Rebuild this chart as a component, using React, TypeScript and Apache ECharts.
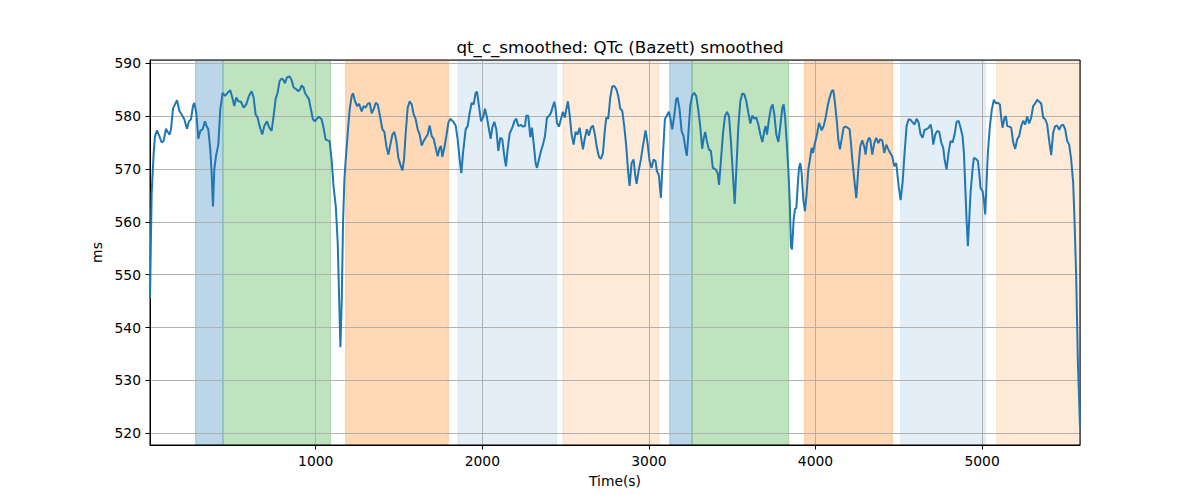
import React, { useEffect, useRef } from "react";
import * as echarts from "echarts";

const times = [
  5, 15, 27, 35, 47, 61, 75, 87, 101, 111, 123, 131, 143, 155, 167, 181, 195, 211, 227, 239,
  251, 263, 271, 283, 295, 307, 321, 335, 345, 355, 367, 375, 383, 391, 401, 415, 427, 441, 455, 471,
  487, 499, 511, 523, 535, 551, 567, 583, 599, 615, 627, 639, 651, 663, 679, 691, 707, 721, 735, 747,
  759, 771, 783, 795, 807, 815, 827, 843, 855, 867, 883, 895, 907, 915, 927, 935, 947, 959, 971, 983,
  995, 1007, 1019, 1035, 1047, 1059, 1071, 1083, 1095, 1107, 1120, 1132, 1148, 1156, 1164, 1172, 1180,
  1192, 1204, 1216, 1224, 1236, 1248, 1260, 1276, 1288, 1300, 1312, 1324, 1336, 1348, 1360, 1372, 1384,
  1400, 1412, 1424, 1436, 1448, 1460, 1472, 1484, 1496, 1508, 1520, 1530, 1540, 1552, 1564, 1576, 1588,
  1600, 1612, 1624, 1636, 1648, 1660, 1672, 1684, 1696, 1708, 1720, 1732, 1744, 1752, 1760, 1772, 1784,
  1796, 1808, 1824, 1840, 1852, 1864, 1874, 1884, 1900, 1912, 1924, 1936, 1948, 1960, 1968, 1980, 1992,
  2004, 2016, 2028, 2040, 2050, 2060, 2072, 2084, 2096, 2108, 2120, 2132, 2142, 2152, 2164, 2180, 2192,
  2204, 2216, 2232, 2244, 2256, 2264, 2276, 2288, 2298, 2308, 2320, 2328, 2340, 2352, 2364, 2376, 2388,
  2400, 2412, 2424, 2432, 2440, 2448, 2460, 2472, 2484, 2496, 2504, 2514, 2524, 2536, 2548, 2560, 2572,
  2584, 2596, 2604, 2616, 2628, 2640, 2652, 2664, 2676, 2688, 2700, 2712, 2724, 2736, 2744, 2756, 2768,
  2780, 2792, 2804, 2816, 2828, 2840, 2852, 2864, 2876, 2884, 2896, 2908, 2918, 2926, 2938, 2952, 2964,
  2980, 2992, 3004, 3016, 3028, 3040, 3048, 3060, 3072, 3084, 3096, 3108, 3120, 3128, 3140, 3152, 3164,
  3172, 3184, 3196, 3208, 3220, 3228, 3236, 3248, 3260, 3272, 3284, 3296, 3308, 3320, 3328, 3338, 3348,
  3360, 3372, 3384, 3401, 3413, 3421, 3433, 3445, 3457, 3469, 3481, 3493, 3505, 3515, 3525, 3537, 3549,
  3561, 3573, 3585, 3597, 3609, 3621, 3633, 3645, 3657, 3669, 3681, 3693, 3701, 3709, 3721, 3733, 3743,
  3753, 3765, 3777, 3789, 3801, 3809, 3817, 3829, 3837, 3845, 3853, 3859, 3869, 3877, 3885, 3893, 3901,
  3909, 3917, 3927, 3937, 3947, 3957, 3967, 3977, 3985, 3997, 4009, 4021, 4029, 4037, 4049, 4061, 4073,
  4085, 4097, 4107, 4117, 4129, 4137, 4147, 4157, 4169, 4181, 4193, 4205, 4213, 4221, 4233, 4245, 4257,
  4269, 4281, 4293, 4301, 4309, 4321, 4329, 4341, 4353, 4365, 4377, 4389, 4401, 4413, 4425, 4437, 4449,
  4461, 4473, 4485, 4499, 4511, 4523, 4535, 4547, 4559, 4571, 4583, 4595, 4607, 4619, 4631, 4643, 4655,
  4667, 4679, 4691, 4699, 4707, 4719, 4731, 4743, 4755, 4767, 4775, 4787, 4799, 4811, 4823, 4835, 4847,
  4859, 4871, 4883, 4891, 4899, 4907, 4915, 4923, 4931, 4943, 4951, 4963, 4975, 4983, 4991, 5003, 5011,
  5019, 5027, 5035, 5047, 5059, 5071, 5083, 5095, 5107, 5115, 5123, 5135, 5143, 5151, 5163, 5175, 5187,
  5199, 5211, 5223, 5235, 5247, 5259, 5271, 5283, 5295, 5307, 5319, 5331, 5343, 5355, 5367, 5379, 5391,
  5403, 5415, 5427, 5439, 5451, 5463, 5475, 5487, 5499, 5511, 5523, 5535, 5547, 5555, 5565, 5575, 5588,
];

const qtc = [
  545.5, 565.5, 573, 576.2, 577.3, 576.2, 575, 575.3, 577.6, 577, 576.5, 577.5, 581.4, 582.2, 583, 581, 580.3, 579.4, 577.6, 579,
  579.4, 581.9, 582.5, 580.6, 575.7, 577.2, 577.5, 579, 578.1, 577.5, 573.7, 569.2, 562.9, 569.9, 572.4, 574.6, 581.3, 584.4, 583.8, 584.4,
  584.9, 583.5, 581.9, 583.5, 582.8, 582.7, 581.6, 582.2, 583.8, 584.7, 583.5, 580.3, 579.7, 578.1, 576.5, 578.1, 579, 577.8, 577.2, 580,
  583.2, 584.4, 586.6, 587.1, 586.8, 586.2, 587.3, 587.5, 586.8, 585.4, 585.1, 584.7, 585.1, 585.8, 585.4, 584.4, 583.8, 583.2, 581.3, 579.4,
  579, 579.5, 579.9, 579.4, 577.8, 575.6, 575.4, 575.3, 571.8, 566.7, 563, 556, 536.3, 545, 560, 568, 571.8,
  576.8, 581.3, 583.8, 584.3, 582.8, 581.9, 582.3, 580.9, 581.9, 581.6, 582.3, 582.5, 580.5, 581.3, 582.5, 582.2, 580.3,
  577.5, 577, 574.3, 572.7, 574.6, 576.5, 577, 575.3, 572.1, 570.8, 569.7, 571.8, 576.8, 581.6, 582.8, 582.2, 580.3,
  579.4, 577.5, 576.5, 574.4, 575.3, 575.9, 576.5, 578.2, 576.2, 575.7, 574, 572.4, 574, 574.3, 572.3, 574, 576.2,
  578.7, 579.5, 579, 578.2, 575.6, 571.8, 569.2, 573, 577.5, 578.1, 580.6, 582.5, 582.2, 584.4, 584.6, 581.9, 579,
  579.7, 581.4, 579.7, 577.5, 575.7, 577.8, 578.9, 577.5, 573.4, 575.9, 575.6, 572.4, 570.5, 573.7, 576.7, 577.8, 579,
  579.5, 578.1, 578.3, 578, 578.1, 580.1, 580, 576, 577.8, 574.9, 571.1, 570.2, 571.8, 573.4, 574.6, 576.2, 579.7,
  580, 580.6, 581.9, 582.7, 581.3, 578.7, 578, 579.4, 580.8, 579.7, 581.3, 582.8, 580.3, 576.5, 574.6, 577, 576.5,
  577.8, 575.3, 573.7, 575.9, 577.5, 576.3, 577.8, 578.2, 576.5, 574, 572.3, 571.9, 573, 577.5, 579.7, 579.5, 583.5,
  585.6, 585.7, 585.1, 583.8, 581.4, 581, 578.1, 574.3, 569.2, 566.8, 571.1, 571.8, 568.8, 567.2, 569.6, 571.8, 574.3,
  577.3, 574.9, 571.5, 570.2, 571.8, 571.5, 569.6, 568.8, 564.5, 572.4, 579.4, 580.1, 580.8, 579.7, 577.5, 580, 583.2,
  583.5, 581.3, 577.2, 576.2, 573.7, 572.5, 576.2, 581.9, 583.9, 584.4, 583.8, 581.3, 578.1, 573.8, 575.6, 577, 575.3,
  573.7, 573.4, 570.2, 569.9, 569.2, 567, 571.8, 576.8, 580, 580.8, 580, 574.9, 568.6, 563.4, 569.9, 578.1, 582.8,
  584.3, 584.1, 582.8, 580.6, 578.6, 580.1, 579.5, 579.7, 578.4, 576.5, 575.1, 577.2, 578.1, 576.5, 579.4, 581.6, 582.2,
  580.3, 576.5, 575.1, 578.1, 581.6, 582.2, 580, 574.3, 569.9, 564.2, 555.3, 554.8, 560.4, 562.4, 562.6, 566.7, 570.2,
  571.1, 569.2, 564.2, 562, 565.4, 569.9, 571.8, 574, 573, 574.9, 576.5, 578.7, 578.1, 577.3, 578.1, 579.7, 581.9,
  583.5, 584.7, 584.9, 582.5, 578.7, 575.6, 573.7, 575.6, 577.8, 578, 577.8, 577.5, 574.9, 571.8, 568, 564.5, 569.9,
  574.3, 575.4, 574.2, 572.7, 574.9, 575.9, 575.6, 572.7, 574.9, 575.9, 574.9, 575.6, 575.4, 573, 574.6, 573.7, 573,
  572.4, 570.5, 571.1, 566.8, 564.1, 567.4, 573.1, 578.1, 579.4, 579.3, 578.8, 578.4, 579.5, 578.8, 576.5, 575.9, 577.4,
  577.5, 577.8, 578.4, 577.2, 574.6, 576.5, 577.2, 577, 575, 574, 571.8, 569.9, 573.1, 575.3, 575, 576.5, 578.9,
  579.1, 577.8, 576.2, 573.1, 566.8, 560.4, 555.4, 560.4, 565.5, 569.9, 572.1, 571.9, 571.5, 569.3, 566.4, 565.8, 564.2,
  561.4, 567.4, 573.1, 578.1, 581.3, 583.1, 582.4, 582.5, 582.2, 579.7, 577.8, 579.7, 580, 578.1, 578, 577.8, 575,
  573.8, 575.6, 576.2, 578.1, 579.1, 578.4, 579.9, 578.6, 579.7, 581.9, 582.4, 583.1, 582.7, 582.4, 579.7, 579.4, 578.4,
  575.3, 572.6, 576.9, 578.1, 578.2, 577.4, 578.2, 578.4, 577.5, 575.3, 574.6, 571.8, 567.4, 560.4, 549.7, 533.9, 521.2,
];

const bandStarts = [279, 443, 1180, 1854, 2484, 3125, 3259, 3935, 4512, 5088];
const bandEnds = [443, 1088, 1796, 2445, 3061, 3259, 3839, 4462, 5020, 5588];
const bandKinds = ["blue", "green", "orange", "lightblue", "lightorange", "blue", "green", "orange", "lightblue", "lightorange"];

const xTicksMin = 5;
const xTicksMax = 5588;
const yTicksMin = 517.8;
const yTicksMax = 590.6;

const TITLE = "qt_c_smoothed: QTc (Bazett) smoothed";
const X_NAME = "Time(s)";
const Y_NAME = "ms";

const kindColor: Record<string, string> = {
  blue: "rgba(31,119,180,0.3)",
  green: "rgba(44,160,44,0.3)",
  orange: "rgba(255,127,14,0.3)",
  lightblue: "rgba(31,119,180,0.12)",
  lightorange: "rgba(255,127,14,0.16)",
};

const FONT = "DejaVu Sans";

export default function App() {
  const ref = useRef<HTMLDivElement>(null);
  useEffect(() => {
    if (!ref.current) return;
    const chart = echarts.init(ref.current, undefined, { renderer: "svg" });
    const axisLabel = {
      fontFamily: FONT,
      fontSize: 13.89,
      color: "#000",
      margin: 9,
      showMinLabel: false,
      showMaxLabel: false,
    };
    const areas = bandStarts.map((s, i) => [
      {
        xAxis: s,
        itemStyle: {
          color: kindColor[bandKinds[i]],
          borderColor: kindColor[bandKinds[i]],
          borderWidth: 1,
        },
      },
      { xAxis: bandEnds[i] },
    ]);
    chart.setOption({
      animation: false,
      title: {
        text: TITLE,
        left: 615,
        top: 34,
        textAlign: "center",
        textStyle: { fontFamily: FONT, fontSize: 16.67, fontWeight: "normal", color: "#000" },
      },
      grid: {
        left: 150,
        right: 120,
        top: 60,
        bottom: 55,
        show: true,
        borderColor: "#000",
        borderWidth: 1,
        backgroundColor: "transparent",
        z: 3,
      },
      xAxis: {
        type: "value",
        min: xTicksMin,
        max: xTicksMax,
        minInterval: 1000,
        maxInterval: 1000,
        z: 2,
        name: X_NAME,
        nameLocation: "middle",
        nameGap: 29,
        nameTextStyle: { fontFamily: FONT, fontSize: 13.89, color: "#000" },
        axisLine: { show: true, lineStyle: { color: "#000", width: 1 } },
        axisTick: { show: true, length: 4.5, lineStyle: { color: "#000", width: 1 } },
        axisLabel: { ...axisLabel, formatter: (v: number) => String(v) },
        splitLine: { show: true, lineStyle: { color: "#b0b0b0", width: 1 } },
      },
      yAxis: {
        type: "value",
        min: yTicksMin,
        max: yTicksMax,
        minInterval: 10,
        maxInterval: 10,
        z: 2,
        name: Y_NAME,
        nameLocation: "middle",
        nameGap: 43,
        nameTextStyle: { fontFamily: FONT, fontSize: 13.89, color: "#000" },
        axisLine: { show: true, lineStyle: { color: "#000", width: 1 } },
        axisTick: { show: true, length: 4.5, lineStyle: { color: "#000", width: 1 } },
        axisLabel: { ...axisLabel, formatter: (v: number) => String(v) },
        splitLine: { show: true, lineStyle: { color: "#b0b0b0", width: 1 } },
      },
      series: [
        {
          type: "line",
          data: times.map((t, i) => [t, qtc[i]]),
          showSymbol: false,
          symbol: "none",
          silent: true,
          z: 4,
          lineStyle: { color: "#1f77b4", width: 2 },
          markArea: {
            silent: true,
            z: 1,
            label: { show: false },
            data: areas,
          },
        },
      ],
    });
    return () => chart.dispose();
  }, []);
  return (
    <div
      ref={ref}
      style={{ position: "absolute", left: 0, top: 0, width: 1200, height: 500, background: "#fff" }}
    />
  );
}
